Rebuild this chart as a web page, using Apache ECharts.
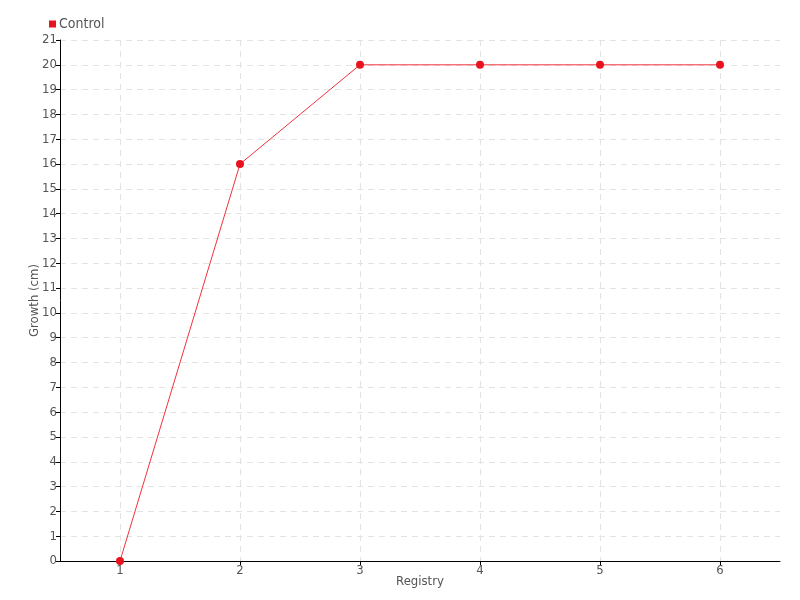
<!DOCTYPE html>
<html>
<head>
<meta charset="utf-8">
<script src="https://cdn.jsdelivr.net/npm/echarts@6/dist/echarts.min.js"></script>
<style>
  html, body { margin: 0; padding: 0; background: #fff; }
  #chart { width: 800px; height: 600px; }
</style>
</head>
<body>
<div id="chart"></div>
<script>
// data
const registry = ["1", "2", "3", "4", "5", "6"];
const controlGrowth = [0, 16, 20, 20, 20, 20];

const fontFamily = "'Liberation Sans Narrow', 'DejaVu Sans Condensed', sans-serif";
const labelColor = "#555";
const gridLine = { show: true, lineStyle: { color: "#e3e3e3", type: [6, 5], width: 1 } };

const myChart = echarts.init(document.getElementById("chart"));
const option = {
  backgroundColor: "#fff",
  textStyle: { fontFamily: fontFamily },
  legend: {
    left: 44,
    top: 12,
    itemWidth: 7,
    itemHeight: 7,
    itemGap: 4,
    icon: "rect",
    textStyle: { color: labelColor, fontSize: 14, fontFamily: fontFamily, padding: [0, 0, 0, -2] },
    data: ["Control"],
  },
  grid: { left: 60, right: 20, top: 40, bottom: 39, containLabel: false },
  xAxis: {
    type: "category",
    data: registry,
    boundaryGap: true,
    name: "Registry",
    nameLocation: "middle",
    nameGap: 14,
    nameMoveOverlap: false,
    nameTextStyle: { color: labelColor, fontSize: 13 },
    axisLine: { lineStyle: { color: "#000", width: 1 } },
    axisTick: { show: true, alignWithLabel: true, length: 4, lineStyle: { color: "#000" } },
    axisLabel: { color: labelColor, fontSize: 13, margin: 3 },
    splitLine: Object.assign({ alignWithLabel: true }, gridLine),
  },
  yAxis: {
    type: "value",
    min: 0,
    max: 21,
    interval: 1,
    name: "Growth (cm)",
    nameLocation: "middle",
    nameGap: 19,
    nameMoveOverlap: false,
    nameTextStyle: { color: labelColor, fontSize: 13 },
    axisLine: { show: true, lineStyle: { color: "#000", width: 1 } },
    axisTick: { show: true, length: 4, lineStyle: { color: "#000" } },
    axisLabel: { color: labelColor, fontSize: 13, margin: 3 },
    splitLine: gridLine,
  },
  series: [
    {
      name: "Control",
      type: "line",
      data: controlGrowth,
      symbol: "circle",
      symbolSize: 8,
      color: "#e8131f",
      lineStyle: { width: 1, color: "#f0323c" },
      itemStyle: { color: "#e8131f" },
      animation: false,
    },
  ],
};
myChart.setOption(option);
</script>
</body>
</html>
